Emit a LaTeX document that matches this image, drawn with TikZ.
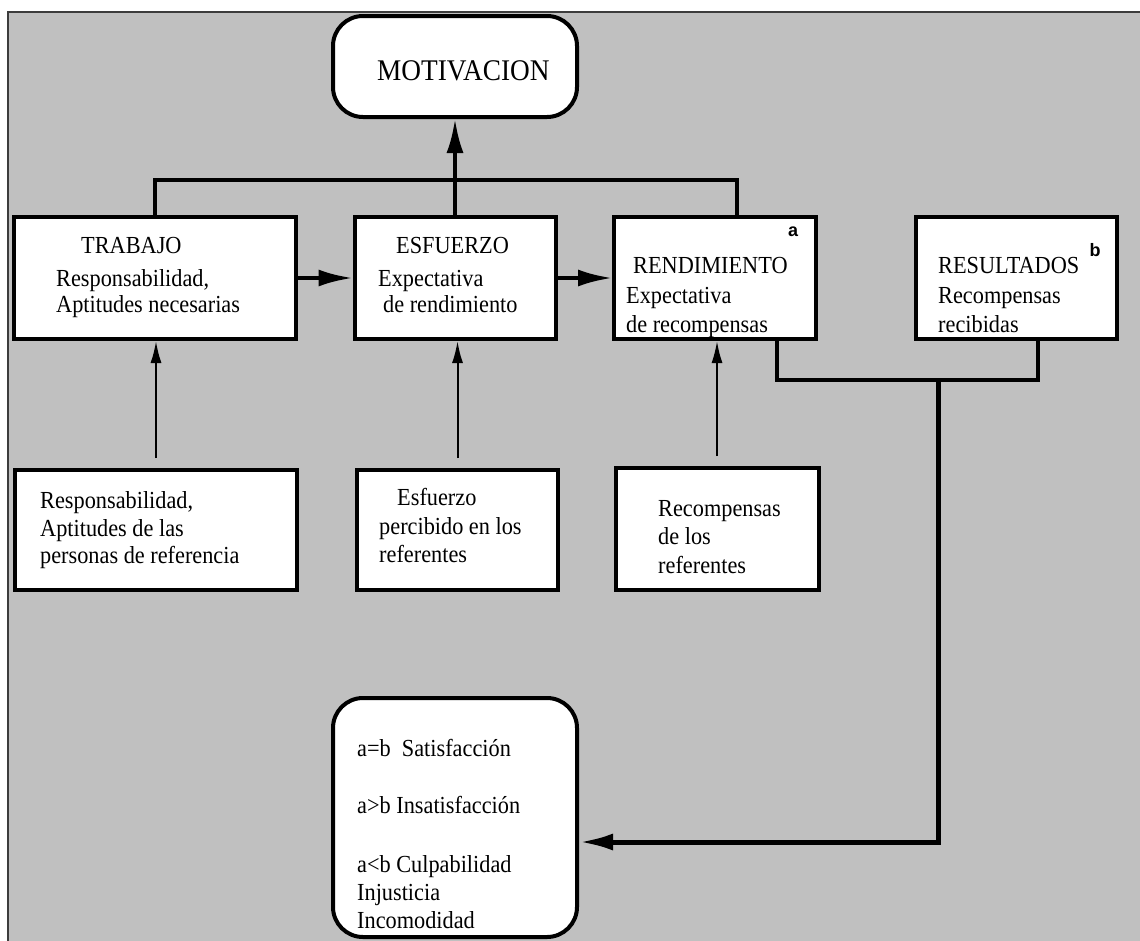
\documentclass[tikz,border=0pt]{standalone}
\usepackage{fontspec}
\setmainfont{Liberation Serif}[FakeStretch=0.91]
\newfontfamily\labelsans{Liberation Sans}
\usetikzlibrary{arrows.meta,calc}
\definecolor{bggray}{RGB}{192,192,192}
\definecolor{framegray}{RGB}{60,60,60}
\tikzset{
  box/.style={draw=black, line width=4pt, fill=white, inner sep=0pt},
  roundbox/.style={box, rounded corners=30pt},
  txt/.style={anchor=base west, inner sep=0pt, font=\fontsize{24.5}{28}\selectfont},
  bigtxt/.style={anchor=base west, inner sep=0pt, font=\fontsize{30}{33}\selectfont},
  conn/.style={line width=4pt},
  bigarrow/.style={line width=4pt, -{Latex[length=34pt,width=17pt]}},
  thinarrow/.style={line width=2pt, -{Latex[length=22pt,width=11pt]}, shorten <=10pt},
  tag/.style={inner sep=0pt, font=\labelsans\bfseries\fontsize{18}{20}\selectfont},
}
\begin{document}
\begin{tikzpicture}[x=1pt,y=-1pt]
\useasboundingbox (0,0) rectangle (1140,940);
% background panel
\fill[bggray] (8,12) rectangle (1141,941);
\draw[framegray, line width=1.5pt] (8,941) -- (8,12) -- (1141,12);

% boxes
\node[roundbox, minimum width=244pt, minimum height=101pt] (mot) at (455,66.5) {};
\node[box, minimum width=282pt, minimum height=122pt] (trab) at (155,278) {};
\node[box, minimum width=201pt, minimum height=122pt] (esf) at (455,278) {};
\node[box, minimum width=202pt, minimum height=122pt] (rend) at (715,278) {};
\node[box, minimum width=201pt, minimum height=122pt] (res) at (1016.5,278) {};
\node[box, minimum width=282pt, minimum height=120pt] (b1) at (156,530) {};
\node[box, minimum width=201pt, minimum height=120pt] (b2) at (457.5,530) {};
\node[box, minimum width=203pt, minimum height=122pt] (b3) at (717,529) {};
\node[roundbox, minimum width=244pt, minimum height=239pt] (outc) at (455,817.5) {};

% texts
\node[bigtxt] (motT) at (377,80) {MOTIVACION};

\node[txt] (trabT1) at (81,253) {TRABAJO};
\node[txt] (trabT2) at (56,286) {Responsabilidad,};
\node[txt] (trabT3) at (56,312) {Aptitudes necesarias};

\node[txt] (esfT1) at (396,253) {ESFUERZO};
\node[txt] (esfT2) at (378,286) {Expectativa};
\node[txt] (esfT3) at (383,312) {de rendimiento};

\node[tag] (tagA) at (793,232) {a};
\node[txt] (rendT1) at (633,273) {RENDIMIENTO};
\node[txt] (rendT2) at (626,303) {Expectativa};
\node[txt] (rendT3) at (626,332) {de recompensas};

\node[tag] (tagB) at (1095,250) {b};
\node[txt] (resT1) at (938,273) {RESULTADOS};
\node[txt] (resT2) at (938,303) {Recompensas};
\node[txt] (resT3) at (938,332) {recibidas};

\node[txt] (b1T1) at (40,508) {Responsabilidad,};
\node[txt] (b1T2) at (40,536) {Aptitudes de las};
\node[txt] (b1T3) at (40,563) {personas de referencia};

\node[txt] (b2T1) at (397,505) {Esfuerzo};
\node[txt] (b2T2) at (379,534) {percibido en los};
\node[txt] (b2T3) at (379,562) {referentes};

\node[txt] (b3T1) at (658,516) {Recompensas};
\node[txt] (b3T2) at (658,544) {de los};
\node[txt] (b3T3) at (658,573) {referentes};

\node[txt] (oT1) at (357,756) {a=b\ \ Satisfacción};
\node[txt] (oT2) at (357,813) {a>b Insatisfacción};
\node[txt] (oT3) at (357,872) {a<b Culpabilidad};
\node[txt] (oT4) at (357,900) {Injusticia};
\node[txt] (oT5) at (357,928) {Incomodidad};

% connectors
\coordinate (jt) at (737,180);
\draw[conn] (trab.north) |- (jt) -- (jt |- rend.north);
\draw[bigarrow] (esf.north) -- (mot.south);
\draw[bigarrow] (trab.east) -- (esf.west);
\draw[bigarrow] (esf.east) -- (rend.west);

\draw[thinarrow] (b1.north) -- (b1.north |- trab.south);
\draw[thinarrow] (b2.north) -- (b2.north |- esf.south);
\draw[thinarrow] (b3.north) -- (b3.north |- rend.south);

\coordinate (jb) at (938,380);
\coordinate (ja) at (938,842);
\draw[conn] ([xshift=62pt]rend.south) |- (jb) -| ([xshift=21.5pt]res.south);
\draw[bigarrow, line width=5pt] (jb) -- (ja) -- (ja -| outc.east);
\end{tikzpicture}
\end{document}
